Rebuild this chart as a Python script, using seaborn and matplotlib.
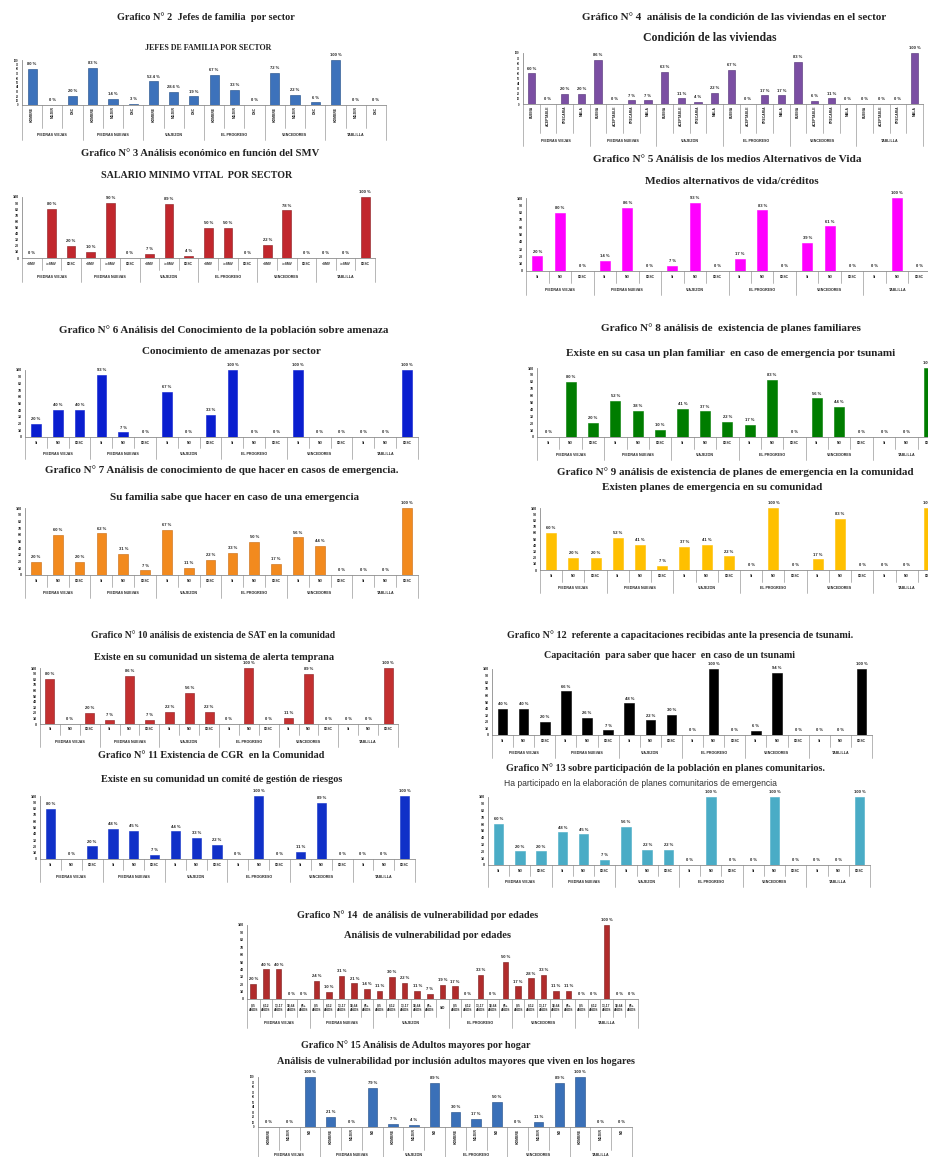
import matplotlib
matplotlib.use("Agg")
import matplotlib.pyplot as plt
import pandas as pd
import seaborn as sns

sns.set_theme(style="white")
plt.rcParams["font.family"] = ["Liberation Sans", "DejaVu Sans"]

W, H = 929, 1157

# ---------------------------------------------------------------- data
SECTORS = ["PIEDRAS VIEJAS", "PIEDRAS NUEVAS", "VIAJEZON", "EL PROGRESO", "VENCEDORES", "TABLILLA"]

SI_NO = ["SI", "NO", "DESC"]
JEFE_CATS = ["HOMBRE", "MUJER", "DSC"]
VIVIENDA_CATS = ["BUENA", "ACEPTABLE", "PRECARIA", "MALA"]
SMV_CATS = ["<SMV", ">=SMV", "DESC"]
EDAD_CATS = ["0-5\nAÑOS", "6-12\nAÑOS", "13-17\nAÑOS", "18-64\nAÑOS", "65+\nAÑOS"]
EDAD_CATS_VIAJEZON = EDAD_CATS + ["S/D"]
ADULTO_CATS = ["HOMBRE", "MUJER", "NO"]

JEFES = [[80, 0, 20], [83, 14, 3], [52.4, 28.6, 19.0], [67, 33, 0], [72, 22, 6], [100, 0, 0]]
VIVIENDAS = [[60, 0, 20, 20], [86, 0, 7, 7], [63, 11, 4, 22], [67, 0, 17, 17], [83, 6, 11, 0], [0, 0, 0, 100]]
SMV = [[0, 80, 20], [10, 90, 0], [7, 89, 4], [50, 50, 0], [22, 78, 0], [0, 0, 100]]
MEDIOS = [[20, 80, 0], [14, 86, 0], [7, 93, 0], [17, 83, 0], [39, 61, 0], [0, 100, 0]]
AMENAZA = [[20, 40, 40], [93, 7, 0], [67, 0, 33], [100, 0, 0], [100, 0, 0], [0, 0, 100]]
PLAN_FAMILIAR = [[0, 80, 20], [52, 38, 10], [41, 37, 22], [17, 83, 0], [56, 44, 0], [0, 0, 100]]
SABE_HACER = [[20, 60, 20], [62, 31, 7], [67, 11, 22], [33, 50, 17], [56, 44, 0], [0, 0, 100]]
PLAN_COMUNIDAD = [[60, 20, 20], [52, 41, 7], [37, 41, 22], [0, 100, 0], [17, 83, 0], [0, 0, 100]]
SAT = [[80, 0, 20], [7, 86, 7], [22, 56, 22], [0, 100, 0], [11, 89, 0], [0, 0, 100]]
CGR = [[80, 0, 20], [48, 45, 7], [44, 33, 22], [0, 100, 0], [11, 89, 0], [0, 0, 100]]
CAPACITACION = [[40, 40, 20], [66, 26, 7], [48, 22, 30], [0, 100, 0], [6, 94, 0], [0, 0, 100]]
PARTICIPACION = [[60, 20, 20], [48, 45, 7], [56, 22, 22], [0, 100, 0], [0, 100, 0], [0, 0, 100]]
EDADES = [[20, 40, 40, 0, 0], [24, 10, 31, 21, 14], [11, 30, 22, 11, 7, 19],
          [17, 0, 33, 0, 50], [17, 28, 33, 11, 11], [0, 0, 100, 0, 0]]
ADULTOS = [[0, 0, 100], [21, 0, 79], [7, 4, 89], [30, 17, 50], [0, 11, 89], [100, 0, 0]]

TITLES = [
    "Grafico N° 2  Jefes de familia  por sector",
    "Gráfico N° 4  análisis de la condición de las viviendas en el sector",
    "Grafico N° 3 Análisis económico en función del SMV",
    "Grafico N° 5 Análisis de los medios Alternativos de Vida",
    "Grafico N° 6 Análisis del Conocimiento de la población sobre amenaza",
    "Grafico N° 8 análisis de  existencia de planes familiares",
    "Grafico N° 7 Análisis de conocimiento de que hacer en casos de emergencia.",
    "Grafico N° 9 análisis de existencia de planes de emergencia en la comunidad",
    "Grafico N° 10 análisis de existencia de SAT en la comunidad",
    "Grafico N° 11 Existencia de CGR  en la Comunidad",
    "Grafico N° 12  referente a capacitaciones recibidas ante la presencia de tsunami.",
    "Grafico N° 13 sobre participación de la población en planes comunitarios.",
    "Grafico N° 14  de análisis de vulnerabilidad por edades",
    "Grafico N° 15 Análisis de Adultos mayores por hogar",
]
SUBTITLES = [
    "JEFES DE FAMILIA POR SECTOR",
    "Condición de las viviendas",
    "SALARIO MINIMO VITAL  POR SECTOR",
    "Medios alternativos de vida/créditos",
    "Conocimiento de amenazas por sector",
    "Existe en su casa un plan familiar  en caso de emergencia por tsunami",
    "Su familia sabe que hacer en caso de una emergencia",
    "Existen planes de emergencia en su comunidad",
    "Existe en su comunidad un sistema de alerta temprana",
    "Existe en su comunidad un comité de gestión de riesgos",
    "Capacitación  para saber que hacer  en caso de un tsunami",
    "Ha participado en la elaboración de planes comunitarios de emergencia",
    "Análisis de vulnerabilidad por edades",
    "Análisis de vulnerabilidad por inclusión adultos mayores que viven en los hogares",
]

# ---------------------------------------------------------------- layout (pixels)
# box = (left, right, y of 100, y of baseline); title/sub = (x centre, y centre, width)
PANELS = [
    dict(values=JEFES, cats=JEFE_CATS, color="#3d72bb", edge="#1d4a85", box=(22, 386, 60, 105),
         cat_h=23, grp_y=135, rot=True, title=(206, 17, 180), sub=(208, 48, 127), dense=True),
    dict(values=VIVIENDAS, cats=VIVIENDA_CATS, color="#7b4fa3", edge="#4e2d73", box=(523, 923, 53, 104),
         cat_h=29, grp_y=141, rot=True, title=(734, 17, 308), sub=(710, 38, 134), dense=True),
    dict(values=SMV, cats=SMV_CATS, color="#c1272d", edge="#8a1a1f", box=(22, 375, 197, 258),
         cat_h=12, grp_y=277, rot=False, title=(200, 153, 240), sub=(197, 176, 193)),
    dict(values=MEDIOS, cats=SI_NO, color="#ff00ff", edge=None, box=(526, 931, 198, 271),
         cat_h=12, grp_y=290, rot=False, title=(727, 160, 270), sub=(732, 182, 175)),
    dict(values=AMENAZA, cats=SI_NO, color="#0a1ecf", edge=None, box=(25, 418, 370, 437),
         cat_h=11, grp_y=454, rot=False, title=(224, 330, 332), sub=(231, 352, 182)),
    dict(values=PLAN_FAMILIAR, cats=SI_NO, color="#007d00", edge=None, box=(537, 940, 368, 437),
         cat_h=12, grp_y=455, rot=False, title=(731, 328, 263), sub=(731, 353, 333)),
    dict(values=SABE_HACER, cats=SI_NO, color="#f28a1e", edge="#c96a10", box=(25, 418, 508, 575),
         cat_h=12, grp_y=593, rot=False, title=(222, 470, 357), sub=(235, 498, 254)),
    dict(values=PLAN_COMUNIDAD, cats=SI_NO, color="#ffc000", edge=None, box=(540, 940, 508, 570),
         cat_h=12, grp_y=588, rot=False, title=(735, 472, 360), sub=(712, 487, 223)),
    dict(values=SAT, cats=SI_NO, color="#c33030", edge="#8a1a1f", box=(40, 398, 668, 724),
         cat_h=11, grp_y=742, rot=False, title=(213, 635, 247), sub=(214, 657, 242)),
    dict(values=CGR, cats=SI_NO, color="#1030c8", edge=None, box=(40, 415, 796, 859),
         cat_h=11, grp_y=877, rot=False, title=(211, 755, 228), sub=(222, 779, 243)),
    dict(values=CAPACITACION, cats=SI_NO, color="#000000", edge=None, box=(492, 872, 669, 735),
         cat_h=12, grp_y=753, rot=False, title=(680, 635, 350), sub=(670, 656, 255)),
    dict(values=PARTICIPACION, cats=SI_NO, color="#4aacc6", edge=None, box=(488, 870, 797, 865),
         cat_h=11, grp_y=882, rot=False, title=(666, 768, 322), sub=(640, 783, 275), sub_sans=True),
    dict(values=EDADES, cats=[EDAD_CATS, EDAD_CATS, EDAD_CATS_VIAJEZON, EDAD_CATS, EDAD_CATS, EDAD_CATS],
         color="#b02c2c", edge="#7a1a1a", box=(247, 638, 925, 999),
         cat_h=18, grp_y=1023, rot=False, title=(418, 915, 243), sub=(428, 936, 167)),
    dict(values=ADULTOS, cats=ADULTO_CATS, color="#3a70b8", edge="#1d4a85", box=(258, 632, 1077, 1127),
         cat_h=23, grp_y=1155, rot=True, title=(416, 1045, 232), sub=(456, 1061, 358), dense=True),
]

fig = plt.figure(figsize=(W / 100, H / 100), dpi=100)
fig.patch.set_facecolor("white")
renderer = fig.canvas.get_renderer()


def fitted_text(x, y, s, target_w, **kw):
    t = fig.text(x / W, 1 - y / H, s, ha="center", va="center", **kw)
    w = t.get_window_extent(renderer).width
    t.set_fontsize(t.get_fontsize() * target_w / w)
    return t


def draw_panel(p, title, subtitle):
    left, right, top, base = p["box"]
    ax = fig.add_axes([left / W, 1 - base / H, (right - left) / W, (base - top) / H])
    ax.patch.set_alpha(0)
    h_px = base - top

    cats = p["cats"]
    if isinstance(cats[0], str):
        cats = [cats] * len(SECTORS)

    rows = []
    for sector, cs, vals in zip(SECTORS, cats, p["values"]):
        for c, v in zip(cs, vals):
            rows.append(dict(sector=sector, cat=c, value=v, key=f"{sector}|{c}"))
    df = pd.DataFrame(rows)
    n = len(df)

    sns.barplot(data=df, x="key", y="value", order=list(df["key"]), color=p["color"],
                saturation=1, width=0.45, errorbar=None, ax=ax,
                edgecolor=p["edge"] if p["edge"] else p["color"], linewidth=0.4)
    ax.bar_label(ax.containers[0], labels=[f"{v:g} %" for v in df["value"]],
                 fontsize=3.0, fontweight="bold", padding=2, color="#222222")

    ax.set_ylim(0, 100)
    ax.set_xlim(-0.5, n - 0.5)
    ax.set_xlabel("")
    ax.set_ylabel("")
    ax.set_xticks([])
    ax.set_yticks(range(0, 101, 10))
    ax.set_yticklabels([str(v) for v in range(0, 101, 10)],
                       fontsize=2.0 if p.get("dense") else 2.6, fontweight="bold")
    ax.tick_params(axis="y", length=1.5, width=0.4, pad=1, colors="#555555", labelcolor="#222222")
    for side in ("top", "right"):
        ax.spines[side].set_visible(False)
    for side in ("left", "bottom"):
        ax.spines[side].set_color("#8c8c8c")
        ax.spines[side].set_linewidth(0.6)

    trans = ax.get_xaxis_transform()
    cat_frac = p["cat_h"] / h_px
    grp_bottom = (p["grp_y"] + 5 - base) / h_px
    grp_mid = (p["grp_y"] - base) / h_px

    # category labels
    for i, c in enumerate(df["cat"]):
        if p["rot"]:
            ax.text(i, -1.5 / h_px, c, transform=trans, rotation=90, ha="center", va="top",
                    fontsize=2.4, fontweight="bold", color="#222222")
        else:
            ax.text(i, -cat_frac / 2, c, transform=trans, ha="center", va="center",
                    fontsize=2.3, fontweight="bold", color="#222222", linespacing=0.9)

    # separators between categories and sectors, and sector names
    counts = [len(v) for v in p["values"]]
    edges = [0]
    for c in counts:
        edges.append(edges[-1] + c)
    for b in range(n + 1):
        depth = grp_bottom if b in edges else cat_frac
        ax.plot([b - 0.5, b - 0.5], [0, -depth], transform=trans, color="#9a9a9a",
                lw=0.5, clip_on=False)
    for s, a, b in zip(SECTORS, edges[:-1], edges[1:]):
        ax.text((a + b - 1) / 2, -grp_mid, s, transform=trans, ha="center", va="center",
                fontsize=2.6, fontweight="bold", color="#222222")

    tx, ty, tw = p["title"]
    fitted_text(tx, ty, title, tw, family=["Liberation Serif", "DejaVu Serif"],
                fontweight="bold", fontsize=7, color="#222222")
    sx, sy, sw = p["sub"]
    if p.get("sub_sans"):
        fitted_text(sx, sy, subtitle, sw, family=["Liberation Sans", "DejaVu Sans"],
                    fontsize=6, color="#333333")
    else:
        fitted_text(sx, sy, subtitle, sw, family=["Liberation Serif", "DejaVu Serif"],
                    fontweight="bold", fontsize=7, color="#222222")


for panel, title, subtitle in zip(PANELS, TITLES, SUBTITLES):
    draw_panel(panel, title, subtitle)

fig.savefig("out.png", dpi=100, facecolor="white")
